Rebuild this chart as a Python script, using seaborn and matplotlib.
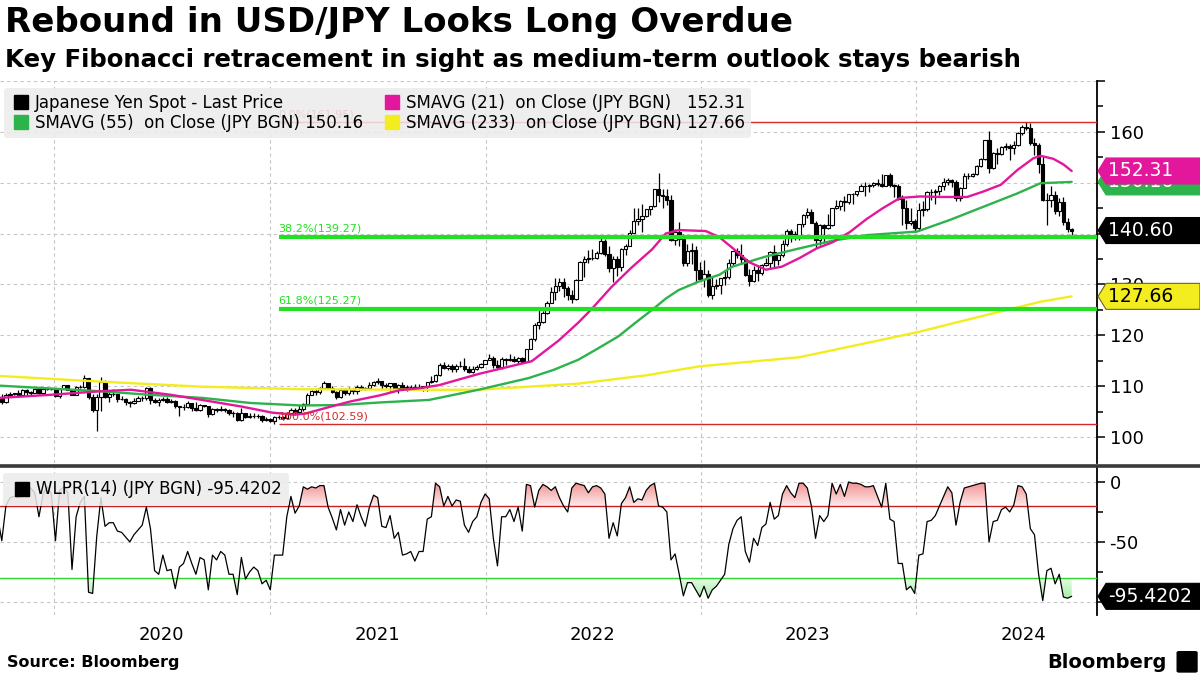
import numpy as np
import pandas as pd
import matplotlib
matplotlib.use("Agg")
import matplotlib.pyplot as plt
import matplotlib.dates as mdates
import matplotlib.ticker as mticker
from matplotlib.colors import LinearSegmentedColormap
from matplotlib.lines import Line2D
from matplotlib.patches import Polygon, FancyBboxPatch
from matplotlib.path import Path
import seaborn as sns

# Weekly USD/JPY bars (Friday dates)
first_week = "2019-09-27"
first_open = 107.54

close = [
    107.92, 106.93, 108.29, 108.44, 108.67, 108.19, 109.26, 108.78, 108.66, 109.50,
    108.58, 109.38, 109.43, 109.45, 108.11, 109.49, 110.14, 109.28, 108.35, 109.75,
    109.77, 111.60, 107.89, 105.39, 107.93, 110.83, 107.94, 108.48, 108.48, 107.53,
    107.49, 106.91, 106.65, 107.13, 107.63, 107.77, 109.62, 107.38, 106.89, 107.22,
    107.50, 106.94, 107.00, 106.13, 105.83, 105.92, 106.60, 105.80, 105.37, 106.24,
    106.14, 104.57, 105.58, 105.31, 105.61, 105.39, 104.71, 104.66, 103.35, 104.63,
    103.86, 104.08, 104.16, 104.04, 103.33, 103.64, 103.25, 103.94, 103.86, 103.78,
    104.68, 105.39, 104.95, 105.45, 106.57, 108.34, 109.04, 108.88, 109.64, 110.68,
    109.66, 108.78, 107.88, 109.31, 108.58, 109.36, 108.96, 109.84, 109.51, 109.68,
    110.21, 110.75, 111.05, 110.15, 110.07, 110.55, 109.72, 110.25, 109.59, 109.79,
    109.83, 109.72, 109.93, 109.94, 110.73, 111.05, 112.23, 114.21, 113.50, 113.95,
    113.41, 113.88, 114.02, 113.38, 112.80, 113.42, 113.72, 114.36, 115.08, 115.56,
    114.19, 113.68, 115.26, 115.21, 115.43, 115.00, 115.55, 114.83, 117.29, 119.18,
    122.05, 122.52, 124.35, 126.42, 128.50, 129.70, 130.56, 129.23, 127.87, 127.11,
    130.88, 134.39, 135.00, 135.22, 135.21, 136.10, 138.54, 136.07, 133.27, 134.98,
    133.42, 137.01, 137.62, 140.20, 142.56, 142.91, 143.36, 144.74, 145.33, 148.69,
    147.65, 147.46, 146.61, 138.80, 140.38, 138.97, 134.31, 136.59, 136.70, 132.87,
    131.11, 132.08, 127.87, 129.60, 129.87, 131.19, 131.38, 134.16, 136.48, 135.85,
    134.99, 131.82, 130.74, 132.86, 132.21, 133.78, 134.15, 136.30, 134.82, 135.71,
    137.98, 140.60, 139.95, 139.38, 141.84, 143.73, 144.31, 142.10, 138.80, 141.76,
    141.16, 141.76, 144.96, 145.39, 146.40, 146.21, 147.84, 147.85, 148.36, 149.37,
    149.32, 149.57, 149.86, 149.66, 149.39, 151.51, 149.62, 149.44, 146.82, 144.94,
    142.16, 142.41, 141.03, 144.63, 144.87, 148.15, 148.18, 148.37, 149.28, 150.21,
    150.51, 150.10, 147.06, 149.04, 151.42, 151.35, 151.62, 153.28, 154.64, 158.33,
    152.97, 155.78, 155.63, 156.98, 157.26, 156.74, 157.38, 159.80, 160.88, 160.75,
    157.85, 157.45, 153.75, 146.54, 146.61, 147.63, 144.35, 146.17, 142.30, 140.85,
    140.60,
]

high = [
    108.18, 108.47, 108.63, 108.94, 108.75, 109.29, 109.49, 109.49, 109.11, 109.68,
    109.73, 109.70, 109.68, 109.55, 109.70, 109.69, 110.29, 110.18, 109.38, 110.02,
    110.14, 112.23, 111.70, 108.50, 108.50, 111.71, 111.30, 108.92, 109.38, 108.49,
    108.09, 107.60, 107.00, 107.77, 108.08, 108.08, 109.85, 109.75, 107.64, 107.66,
    107.93, 107.80, 107.44, 107.31, 106.20, 106.48, 107.05, 106.63, 106.95, 106.55,
    106.38, 106.17, 105.71, 105.80, 106.11, 105.75, 105.53, 105.07, 104.90, 105.68,
    104.75, 104.76, 104.74, 104.49, 104.26, 103.93, 103.76, 104.08, 104.40, 104.09,
    104.94, 105.77, 105.65, 106.22, 106.69, 108.64, 109.24, 109.36, 109.85, 110.97,
    110.70, 109.96, 108.96, 109.70, 109.69, 109.78, 109.60, 110.20, 110.33, 109.86,
    110.82, 110.98, 111.66, 111.08, 110.70, 110.60, 110.59, 110.37, 110.80, 110.24,
    110.26, 110.42, 110.45, 110.07, 110.79, 112.08, 112.35, 114.47, 114.70, 114.31,
    114.44, 114.30, 114.97, 115.52, 113.95, 113.95, 114.26, 114.53, 115.18, 116.35,
    115.84, 115.06, 115.69, 115.53, 116.34, 116.01, 115.75, 115.80, 117.35, 119.40,
    122.44, 125.10, 124.69, 126.68, 129.41, 131.25, 131.35, 131.34, 129.78, 128.95,
    130.98, 134.56, 135.59, 136.71, 137.00, 136.57, 139.39, 138.88, 137.47, 135.50,
    135.58, 137.23, 137.97, 140.80, 144.99, 144.96, 145.90, 144.93, 145.43, 148.86,
    151.94, 148.69, 148.83, 147.58, 140.91, 142.25, 139.89, 137.86, 138.18, 137.48,
    134.50, 134.78, 132.87, 131.58, 131.12, 131.19, 132.90, 134.93, 136.53, 137.10,
    137.91, 135.11, 133.00, 133.54, 133.76, 134.05, 135.14, 136.56, 137.77, 135.77,
    138.75, 140.93, 140.93, 140.46, 141.93, 143.85, 145.07, 144.93, 142.45, 141.96,
    141.96, 143.89, 145.00, 146.56, 146.64, 147.37, 147.87, 147.95, 148.46, 149.71,
    150.16, 149.82, 150.06, 150.78, 151.72, 151.59, 151.92, 149.75, 149.67, 147.50,
    146.59, 144.96, 142.83, 145.98, 146.41, 148.34, 148.70, 148.80, 149.57, 150.88,
    150.84, 150.77, 150.48, 149.15, 151.86, 151.97, 151.95, 153.39, 154.79, 158.44,
    160.21, 155.95, 156.79, 157.19, 157.72, 157.71, 158.26, 159.93, 161.28, 161.95,
    161.77, 158.89, 157.86, 155.22, 147.90, 149.39, 148.37, 147.00, 147.21, 143.09,
    141.03,
]

low = [
    107.30, 106.48, 106.79, 108.29, 108.25, 107.89, 108.10, 108.24, 108.26, 108.60,
    108.43, 108.43, 109.20, 109.27, 107.84, 107.65, 109.42, 109.16, 108.31, 108.30,
    109.60, 109.69, 107.50, 105.00, 101.18, 105.15, 107.77, 106.92, 107.98, 106.92,
    107.24, 106.35, 106.00, 106.45, 107.10, 107.08, 107.32, 106.58, 106.65, 106.07,
    107.18, 106.64, 106.65, 105.68, 104.19, 105.29, 105.79, 105.11, 105.21, 105.20,
    105.88, 104.00, 104.27, 104.94, 105.20, 104.87, 104.34, 104.03, 103.18, 103.18,
    103.66, 103.80, 103.65, 103.83, 102.86, 103.17, 102.96, 102.59, 103.52, 103.33,
    103.55, 104.59, 104.41, 104.93, 105.04, 106.35, 108.34, 108.34, 108.41, 109.60,
    109.36, 108.61, 107.48, 107.75, 108.34, 108.34, 108.56, 108.56, 109.19, 109.19,
    109.61, 110.02, 110.43, 109.53, 109.72, 109.07, 109.36, 108.72, 109.43, 109.11,
    109.60, 109.59, 109.59, 109.11, 109.12, 110.70, 110.82, 112.08, 113.41, 113.26,
    112.73, 112.73, 113.83, 113.06, 112.53, 112.60, 113.14, 113.57, 114.31, 115.08,
    113.48, 113.47, 113.46, 114.16, 115.02, 114.74, 114.41, 114.65, 114.82, 117.26,
    118.91, 121.28, 122.39, 124.15, 126.38, 126.95, 128.63, 127.52, 127.03, 126.36,
    126.95, 130.85, 131.49, 134.26, 134.74, 134.98, 135.99, 135.58, 132.51, 130.39,
    131.73, 132.56, 135.80, 137.54, 140.16, 141.66, 140.34, 143.30, 143.56, 145.28,
    146.23, 145.11, 145.68, 138.47, 137.68, 137.50, 133.62, 133.63, 134.00, 130.57,
    130.78, 129.52, 127.46, 127.22, 129.03, 128.08, 129.80, 130.99, 133.80, 135.27,
    134.12, 131.73, 129.64, 130.40, 130.63, 131.79, 133.56, 133.02, 133.50, 133.74,
    135.35, 137.50, 138.43, 138.76, 138.81, 141.35, 142.98, 142.07, 137.24, 137.67,
    138.06, 141.00, 141.56, 144.82, 144.54, 144.45, 145.91, 145.91, 147.32, 148.34,
    147.31, 148.17, 149.14, 149.34, 149.21, 149.30, 149.20, 147.15, 146.67, 141.64,
    140.97, 141.73, 140.25, 140.80, 143.42, 144.35, 146.66, 145.90, 147.62, 148.54,
    149.58, 149.21, 146.49, 146.48, 148.90, 150.81, 151.17, 151.50, 153.14, 154.54,
    151.86, 152.75, 153.60, 155.40, 156.37, 154.55, 155.73, 157.15, 159.38, 160.37,
    157.37, 155.38, 151.94, 146.41, 141.68, 145.19, 143.85, 143.45, 141.76, 140.29,
    139.58,
]

# Williams %R (14), one value per weekly bar
wlpr = [
    -29, -49, -20, -13, -12, -13, -7, -6, -5, -9,
    -29, -10, -4, -10, -49, -7, -4, -9, -73, -29,
    -17, -12, -92, -93, -45, -13, -37, -34, -34, -41,
    -42, -46, -50, -44, -40, -36, -21, -39, -74, -77,
    -61, -74, -73, -89, -71, -68, -58, -68, -77, -63,
    -65, -90, -61, -65, -58, -61, -77, -77, -94, -63,
    -81, -75, -71, -74, -85, -82, -90, -61, -61, -61,
    -29, -12, -26, -20, -4, -6, -4, -5, -3, -3,
    -21, -30, -40, -23, -36, -25, -33, -19, -29, -37,
    -21, -11, -13, -37, -38, -28, -47, -42, -61, -60,
    -58, -66, -58, -58, -31, -29, -1, -4, -20, -12,
    -20, -15, -16, -36, -42, -33, -29, -17, -10, -14,
    -47, -70, -29, -29, -23, -33, -21, -41, -2, -3,
    -21, -7, -2, -4, -7, -4, -13, -20, -25, -5,
    -1, -2, -3, -9, -4, -3, -5, -10, -47, -34,
    -45, -18, -13, -4, -17, -14, -15, -7, -3, -1,
    -20, -21, -25, -65, -60, -77, -95, -84, -84, -90,
    -96, -87, -97, -90, -87, -82, -77, -52, -39, -32,
    -29, -58, -67, -47, -53, -38, -35, -17, -31, -28,
    -10, -3, -9, -13, -1, -1, -5, -20, -47, -28,
    -33, -28, -1, -10, -2, -12, 0, -1, -1, -2,
    -4, -4, -3, -12, -21, -1, -31, -33, -68, -68,
    -90, -87, -93, -61, -60, -33, -32, -28, -20, -12,
    -4, -9, -36, -17, -5, -4, -3, -2, -1, -1,
    -50, -33, -32, -23, -21, -25, -19, -3, -4, -10,
    -39, -44, -77, -99, -74, -72, -85, -77, -96, -97,
    -95.4202,
]

# Moving averages, sampled along the drawn lines
sma21_dates = [
    "2019-10-01", "2019-12-25", "2020-03-19", "2020-05-10", "2020-07-17", "2020-09-07",
    "2020-11-13", "2021-01-04", "2021-02-10", "2021-03-01", "2021-04-14", "2021-05-17",
    "2021-07-06", "2021-08-08", "2021-09-11", "2021-10-14", "2021-12-20", "2022-02-26",
    "2022-03-20", "2022-05-05", "2022-06-07", "2022-06-29", "2022-08-03", "2022-09-05",
    "2022-10-10", "2022-11-02", "2022-11-24", "2022-12-16", "2023-01-09", "2023-02-01",
    "2023-02-23", "2023-03-23", "2023-04-21", "2023-05-18", "2023-06-17", "2023-07-16",
    "2023-08-12", "2023-09-10", "2023-10-09", "2023-11-05", "2023-12-04", "2024-01-07",
    "2024-02-10", "2024-03-27", "2024-04-24", "2024-05-23", "2024-06-20", "2024-07-17",
    "2024-07-29", "2024-08-20", "2024-09-06", "2024-09-20",
]
sma21 = [
    107.7, 108.3, 109.0, 109.3, 108.3, 107.3, 106.0, 104.8, 104.4, 104.6, 106.0, 107.0,
    108.2, 109.2, 109.6, 110.2, 112.4, 114.3, 114.9, 119.0, 122.5, 125.1, 129.6, 133.3,
    136.9, 140.0, 140.7, 140.6, 140.5, 139.3, 137.2, 134.4, 132.9, 133.5, 135.2, 137.1,
    138.3, 140.3, 142.9, 145.0, 147.0, 147.3, 147.2, 147.2, 148.3, 149.6, 152.5, 154.8,
    155.3, 154.7, 153.6, 152.31,
]
sma55_dates = [
    "2019-10-01", "2020-03-19", "2020-06-12", "2020-09-07", "2020-11-28", "2021-02-23",
    "2021-04-30", "2021-07-06", "2021-09-27", "2021-12-20", "2022-03-15", "2022-04-26",
    "2022-06-07", "2022-07-10", "2022-08-14", "2022-09-11", "2022-10-10", "2022-11-02",
    "2022-11-24", "2022-12-29", "2023-02-01", "2023-02-23", "2023-04-21", "2023-06-17",
    "2023-08-12", "2023-10-09", "2024-01-02", "2024-02-27", "2024-04-24", "2024-06-20",
    "2024-07-29", "2024-09-20",
]
sma55 = [
    110.1, 109.0, 108.3, 107.7, 106.7, 106.2, 106.3, 106.8, 107.3, 109.3, 111.6, 113.2,
    115.2, 117.4, 119.8, 122.4, 125.0, 127.2, 128.9, 130.6, 131.9, 133.5, 135.5, 137.1,
    138.6, 139.7, 140.4, 142.7, 145.3, 147.9, 149.9, 150.16,
]
sma233_dates = [
    "2019-10-01", "2020-03-19", "2020-09-07", "2021-02-23", "2021-09-11", "2021-12-20",
    "2022-06-07", "2022-10-04", "2022-12-29", "2023-06-17", "2023-10-09", "2024-01-02",
    "2024-05-23", "2024-07-29", "2024-09-20",
]
sma233 = [
    112.0, 110.9, 109.9, 109.4, 109.3, 109.3, 110.5, 112.2, 113.9, 115.7, 118.5, 120.6,
    124.7, 126.6, 127.66,
]

# Fibonacci retracement drawn from the Jan-2021 low
fib_start = "2021-01-15"
fib_pcts = [0.0, 38.2, 61.8, 100.0]
fib_levels = [161.95, 139.27, 125.27, 102.59]
wlpr_upper = -20
wlpr_lower = -80

PINK = "#e3179b"
GREEN = "#2db34b"
YELLOW = "#f3ec1f"
FIB_GREEN = "#22e022"
FIB_RED = "#d42a2a"
GRID = "#c6c6c6"

sns.set_theme(style="white")
plt.rcParams["font.family"] = ["DejaVu Sans"]
plt.rcParams.update({"text.color": "black", "axes.labelcolor": "black",
                     "xtick.color": "black", "ytick.color": "black"})

dates = pd.date_range(first_week, periods=len(close), freq="7D")
xd = mdates.date2num(dates)
c = np.array(close)
h = np.array(high)
l = np.array(low)
o = np.array([first_open] + close[:-1])
w = np.array(wlpr, dtype=float)

fig = plt.figure(figsize=(12, 6.75), dpi=100)
ax1 = fig.add_axes([0, 0.3141, 0.9142, 0.5659])
ax2 = fig.add_axes([0, 0.0889, 0.9142, 0.2192])
x_left = mdates.date2num(pd.Timestamp("2019-10-01"))
x_right = mdates.date2num(pd.Timestamp("2024-11-02"))

# --- price panel: candles ---
up = c >= o
ax1.vlines(xd, l, h, color="black", lw=0.9, zorder=3)
ax1.bar(xd[up], (c - o)[up], bottom=o[up], width=5.5, facecolor="white",
        edgecolor="black", linewidth=0.8, zorder=3.1)
ax1.bar(xd[~up], (o - c)[~up], bottom=c[~up], width=5.5, facecolor="black",
        edgecolor="black", linewidth=0.8, zorder=3.1)

for d, v, col in [(sma233_dates, sma233, YELLOW), (sma55_dates, sma55, GREEN),
                  (sma21_dates, sma21, PINK)]:
    sns.lineplot(x=mdates.date2num(pd.to_datetime(d)), y=v, ax=ax1, color=col,
                 lw=1.7, zorder=4, sort=False, errorbar=None)

fx = mdates.date2num(pd.Timestamp(fib_start))
for pct, lev in zip(fib_pcts, fib_levels):
    edge = pct in (0.0, 100.0)
    col = FIB_RED if edge else FIB_GREEN
    ax1.hlines(lev, fx, x_right, color=col, lw=1.0 if edge else 3.0, zorder=4.5)
    ax1.annotate(f"{pct:.1f}%({lev:.2f})", (fx, lev), xytext=(0, 1.5 if edge else 2.5),
                 textcoords="offset points", color=col, fontsize=8, ha="left",
                 va="bottom", zorder=4.6)

# --- Williams %R panel ---
sns.lineplot(x=xd, y=w, ax=ax2, color="black", lw=0.9, zorder=4, sort=False, errorbar=None)
ax2.axhline(wlpr_upper, color="#c82020", lw=1.0, zorder=3)
ax2.axhline(wlpr_lower, color="#30d630", lw=1.0, zorder=3)

red_cm = LinearSegmentedColormap.from_list("r", ["#fdeaea", "#f29090"])
grn_cm = LinearSegmentedColormap.from_list("g", ["#9beb9b", "#e6fbe6"])
for cond, ref, lo_, hi_, cm in [(w >= wlpr_upper, wlpr_upper, wlpr_upper, 0, red_cm),
                                (w <= wlpr_lower, wlpr_lower, -100, wlpr_lower, grn_cm)]:
    poly = ax2.fill_between(xd, w, ref, where=cond, interpolate=True,
                            facecolor="none", edgecolor="none")
    paths = poly.get_paths()
    if not paths:
        continue
    img = ax2.imshow(np.linspace(0, 1, 256).reshape(-1, 1), cmap=cm, origin="lower",
                     extent=(xd[0], xd[-1], lo_, hi_), aspect="auto", zorder=2)
    img.set_clip_path(Path.make_compound_path(*paths), ax2.transData)

# --- axes styling ---
for ax in (ax1, ax2):
    ax.set_xlim(x_left, x_right)
    ax.xaxis.set_major_locator(mdates.YearLocator())
    ax.xaxis.set_minor_locator(mdates.MonthLocator(bymonth=7, bymonthday=1))
    ax.grid(axis="both", which="major", color=GRID, ls=(0, (3, 3)), lw=0.8)
    for s in ("left", "top", "bottom"):
        ax.spines[s].set_visible(False)
    ax.spines["right"].set_color("black")
    ax.spines["right"].set_linewidth(1.3)
    ax.tick_params(axis="y", which="both", left=False, right=True, labelleft=False,
                   labelright=True, direction="out", colors="black", labelsize=13,
                   width=1.1, pad=3)
    ax.tick_params(axis="y", which="major", length=6)
    ax.tick_params(axis="y", which="minor", length=4)
    ax.set_xlabel("")
    ax.set_ylabel("")

# labels hidden behind the value tags are left blank
ax1.set_ylim(94.9, 170)
ax1.set_yticks(range(100, 171, 10))
ax1.set_yticklabels(["100", "110", "120", "130", "", "", "160", ""])
ax1.set_yticks(range(105, 170, 10), minor=True)
ax1.tick_params(axis="x", which="both", length=0, labelbottom=False)

ax2.set_ylim(-111, 12.5)
ax2.set_yticks([0, -50, -100])
ax2.set_yticklabels(["0", "-50", ""])
ax2.set_yticks([-25, -75], minor=True)
ax2.xaxis.set_major_formatter(mticker.NullFormatter())
ax2.xaxis.set_minor_formatter(mdates.DateFormatter("%Y"))
ax2.tick_params(axis="x", which="both", length=0, pad=8, labelsize=13, colors="black")

# --- legends ---
def sq(col):
    return Line2D([], [], ls="none", marker="s", ms=10, mfc=col, mec=col)

leg1 = ax1.legend(
    [sq("black"), sq(GREEN), sq(PINK), sq(YELLOW)],
    ["Japanese Yen Spot - Last Price",
     f"SMAVG (55)  on Close (JPY BGN) {sma55[-1]:.2f}",
     f"SMAVG (21)  on Close (JPY BGN)   {sma21[-1]:.2f}",
     f"SMAVG (233)  on Close (JPY BGN) {sma233[-1]:.2f}"],
    ncol=2, loc="upper left", bbox_to_anchor=(0.004, 0.982), borderaxespad=0,
    fontsize=12, handlelength=1.35, handletextpad=0.15, columnspacing=1.05,
    labelspacing=0.15, borderpad=0.35, frameon=True, fancybox=True,
    facecolor="#ececec", edgecolor="none", framealpha=0.85)
leg1.set_zorder(8)
leg2 = ax2.legend(
    [sq("black")], [f"WLPR(14) (JPY BGN) {w[-1]:.4f}"], loc="upper left",
    bbox_to_anchor=(0.003, 0.96), borderaxespad=0, fontsize=12, handlelength=1.35,
    handletextpad=0.15, borderpad=0.45, frameon=True, fancybox=True,
    facecolor="#ececec", edgecolor="none", framealpha=0.85)
leg2.set_zorder(8)

# --- last-value tags on the right axis ---
inv = fig.transFigure.inverted()
fig_w = fig.bbox.width


def tag(ax, value, text, face, fg, z, edge=None):
    ax_r = ax.transAxes.transform((1, 0))[0]
    y = ax.transData.transform((x_left, value))[1]
    hh = 13
    pts = [(ax_r + 1, y), (ax_r + 9, y + hh), (fig_w, y + hh), (fig_w, y - hh), (ax_r + 9, y - hh)]
    fig.add_artist(Polygon(inv.transform(pts), closed=True, transform=fig.transFigure,
                           facecolor=face, edgecolor=edge or face, lw=0.8, zorder=z))
    tx, ty = inv.transform((ax_r + 11, y))
    fig.text(tx, ty, text, color=fg, fontsize=13.5, ha="left", va="center", zorder=z + 0.5)


tag(ax1, sma55[-1], f"{sma55[-1]:.2f}", GREEN, "white", 10)
tag(ax1, sma21[-1], f"{sma21[-1]:.2f}", PINK, "white", 11)
tag(ax1, c[-1], f"{c[-1]:.2f}", "black", "white", 12)
tag(ax1, sma233[-1], f"{sma233[-1]:.2f}", YELLOW, "black", 13, edge="#6b6420")
tag(ax2, w[-1], f"{w[-1]:.4f}", "black", "white", 14)

# separator between panels
sep_y = 1 - 465.5 / 675
fig.add_artist(Line2D([0, 1], [sep_y, sep_y], transform=fig.transFigure, color="#3a3a3a", lw=2.6))

# --- titles and footer ---
fig.text(0.004, 0.966, "Rebound in USD/JPY Looks Long Overdue", fontsize=24.5,
         fontweight="bold", ha="left", va="center", color="black")
fig.text(0.004, 0.911, "Key Fibonacci retracement in sight as medium-term outlook stays bearish",
         fontsize=17.6, fontweight="bold", ha="left", va="center", color="black")
fig.text(0.006, 0.019, "Source: Bloomberg", fontsize=11.5, fontweight="bold",
         ha="left", va="center", color="black")
fig.text(0.972, 0.019, "Bloomberg", fontsize=14, fontweight="bold", ha="right",
         va="center", color="black")
fig.add_artist(FancyBboxPatch((0.9825, 0.006), 0.0135, 0.027, boxstyle="round,pad=0.0015",
                              transform=fig.transFigure, facecolor="black", edgecolor="black"))

fig.savefig("out.png", dpi=100)
